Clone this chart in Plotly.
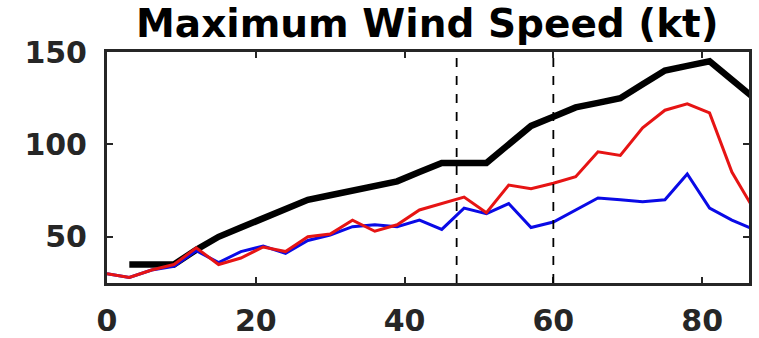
import plotly.graph_objects as go

hours = [0, 3, 6, 9, 12, 15, 18, 21, 24, 27, 30, 33, 36, 39, 42, 45, 48, 51, 54, 57,
         60, 63, 66, 69, 72, 75, 78, 81, 84, 87]
best_track = [None, 35, 35, 35, 43, 50, 55, 60, 65, 70, 72.5, 75, 77.5, 80, 85, 90, 90, 90,
              100, 110, 115, 120, 122.5, 125, 132.5, 140, 142.5, 145, 135, 125]
model_red = [30, 28, 32, 35, 44, 35, 38.5, 44.5, 42, 50, 51.5, 59, 53, 56.5, 64.5, 68, 71.5,
             63, 78, 76, 79, 82.5, 96, 94, 109, 118.5, 122, 117, 85, 64.5]
model_blue = [30, 28, 32, 34, 42.5, 36, 42, 45, 41, 48, 51, 55.5, 56.5, 55.5, 59, 54, 65.5,
              62.5, 68, 55, 58, 64.5, 71, 70, 69, 70, 84, 65.5, 59, 54]
vlines = [47, 60]
xticks = [0, 20, 40, 60, 80]
yticks = [50, 100, 150]

fig = go.Figure()
fig.add_trace(go.Scatter(x=hours, y=best_track, mode="lines",
                         line=dict(color="black", width=6.5), showlegend=False))
fig.add_trace(go.Scatter(x=hours, y=model_blue, mode="lines",
                         line=dict(color="#0a0ae6", width=3), showlegend=False))
fig.add_trace(go.Scatter(x=hours, y=model_red, mode="lines",
                         line=dict(color="#e61414", width=3), showlegend=False))
for v in vlines:
    fig.add_shape(type="line", x0=v, x1=v, y0=0, y1=1, xref="x", yref="paper",
                  line=dict(color="black", width=1.8, dash="dash"))

tickfont = dict(family="DejaVu Sans", size=30, color="#262626", weight="bold")
axis_common = dict(showline=True, linecolor="#262626", linewidth=3, mirror="ticks",
                   ticks="inside", ticklen=6, tickwidth=1.5, tickcolor="#262626",
                   showgrid=False, zeroline=False, tickfont=tickfont, automargin=False)
fig.update_xaxes(range=[0, 86.3], tickvals=xticks, ticklabelstandoff=9, **axis_common)
fig.update_yaxes(range=[25, 150], tickvals=yticks, ticklabelstandoff=11, **axis_common)

fig.update_layout(
    width=759, height=338,
    margin=dict(l=107, r=10, t=52, b=55),
    plot_bgcolor="white", paper_bgcolor="white",
    title=dict(text="<b>Maximum Wind Speed (kt)</b>", x=0.563, xanchor="center",
               y=0.93, yanchor="middle",
               font=dict(family="DejaVu Sans", size=39, color="black")),
)
fig.write_html("out.html")
